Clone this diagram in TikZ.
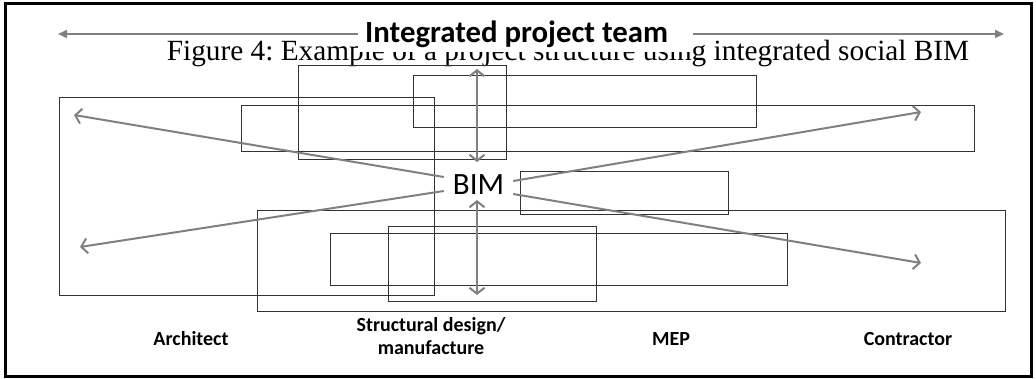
\documentclass[tikz,border=0pt]{standalone}
\usepackage{fontspec}
\setmainfont{Liberation Serif}
\newfontfamily\calibri{Carlito}
\usetikzlibrary{arrows.meta}
\frenchspacing

\begin{document}
\begin{tikzpicture}[x=1pt,y=-1pt,
  box/.style = {draw=black!80, line width=1pt},
  link/.style = {draw=black!50, line width=2pt},
  barb/.tip = {Straight Barb[length=6pt,width=15pt]},
  role/.style = {font=\calibri\bfseries\fontsize{20}{23}\selectfont, align=center},
  banner/.style = {fill=white, inner xsep=7pt, inner ysep=2pt,
    text height=21pt, text depth=7pt, minimum width=335pt}]
  \useasboundingbox (0,0) rectangle (1036,379);
  \draw[line width=3pt] (5,4) rectangle (1031,376);
  % caption and team banner
  \node[font=\fontsize{29.3}{34}\selectfont, anchor=base, inner sep=0pt] (caption) at (568,61)
    {Figure 4: Example of a project structure using integrated social BIM};
  \coordinate (teamL) at (58,34);
  \coordinate (teamR) at (1004,34);
  \draw[draw=black!50, line width=1.5pt, {Triangle[length=9pt,width=8pt]}-{Triangle[length=9pt,width=8pt]}] (teamL) -- (teamR);
  \node[banner, anchor=west] (team) at (358,36) {};
  \node[font=\calibri\bfseries\fontsize{30.8}{34}\selectfont, anchor=base west, inner sep=0pt] (teamtext) at (365,43) {Integrated project team};
  % boxes
  \draw[box] (59,98) rectangle (434,296);
  \draw[box] (241,106) rectangle (974,152);
  \draw[box] (298,66) rectangle (506,160);
  \draw[box] (413,76) rectangle (756,128);
  \draw[box] (520,172) rectangle (728,215);
  \draw[box] (257,211) rectangle (1005,312);
  \draw[box] (330,234) rectangle (787,286);
  \draw[box] (388,227) rectangle (596,302);
  % BIM in the middle
  \node[font=\calibri\fontsize{31}{36}\selectfont, inner xsep=9pt, inner ysep=0pt] (bim) at (478.5,185) {BIM};
  \coordinate (archUp) at (74,115);
  \coordinate (archDown) at (80,247);
  \coordinate (conUp) at (921,112);
  \coordinate (conDown) at (921,263);
  \coordinate (stUp1) at (477,69);
  \coordinate (stUp2) at (477,162);
  \coordinate (stDown1) at (477,200);
  \coordinate (stDown2) at (477,295);
  \draw[link, -barb] ([yshift=8pt]bim.west) -- (archUp);
  \draw[link, -barb] ([yshift=-6pt]bim.west) -- (archDown);
  \draw[link, -barb] ([yshift=4pt]bim.east) -- (conUp);
  \draw[link, -barb] ([yshift=-9pt]bim.east) -- (conDown);
  \draw[link, barb-barb] (stUp1) -- (stUp2);
  \draw[link, barb-barb] (stDown1) -- (stDown2);
  % roles
  \node[role, anchor=base] (architect) at (191,345) {Architect};
  \node[role] (structural) at (431,336) {Structural design/\\manufacture};
  \node[role, anchor=base] (mep) at (671,345) {MEP};
  \node[role, anchor=base] (contractor) at (908,345) {Contractor};
\end{tikzpicture}
\end{document}
